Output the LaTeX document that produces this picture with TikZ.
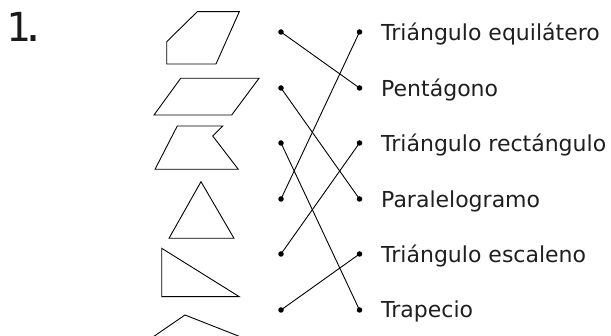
\documentclass[tikz,border=0pt]{standalone}
\usepackage{fontspec}
\setmainfont{DejaVu Sans}
\newfontfamily\numfont{DejaVu Sans Mono}
\begin{document}
\begin{tikzpicture}[x=1pt,y=-1pt,
  dot/.style={circle,fill=black,inner sep=0pt,minimum size=5.5pt},
  lbl/.style={anchor=base west,inner sep=0pt,font=\fontsize{22}{22}\selectfont,text=black!88},
  figline/.style={draw=black,line width=0.9pt,line join=miter},
  link/.style={draw=black,line width=0.9pt}]
\useasboundingbox (0,0) rectangle (611,336);
\clip (0,0) rectangle (611,336);
\node[anchor=base west,inner sep=0pt,font=\numfont\fontsize{40}{40}\selectfont,text=black!90] (num) at (6,42) {1\kern-8.5pt.};
% shapes
\draw[figline] (166.7,41.7) -- (197.3,11.7) -- (239.3,11.7) -- (216,64) -- (166.7,64) -- cycle;
\draw[figline] (154,115) -- (180.7,78.3) -- (259,78.3) -- (231.7,115) -- cycle;
\draw[figline] (177.3,126) -- (222.7,126) -- (212.7,136) -- (238.3,169.3) -- (155,169.3) -- cycle;
\draw[figline] (201,181.7) -- (234,238.3) -- (169,238.3) -- cycle;
\draw[figline] (161.7,248.3) -- (239.3,296.7) -- (161.7,296.7) -- cycle;
\draw[figline] (185,315) -- (150,339) -- (246,339) -- cycle;
% dots
\foreach \i/\y in {1/32,2/88,3/143,4/199,5/254,6/310}{
  \node[dot] (l\i) at (281,\y) {};
  \node[dot] (r\i) at (359.5,\y) {};
}
% labels
\node[lbl] (t1) at (381,41) {Triángulo equilátero};
\node[lbl] (t2) at (381,97) {Pentágono};
\node[lbl] (t3) at (381,152) {Triángulo rectángulo};
\node[lbl] (t4) at (381,208) {Paralelogramo};
\node[lbl] (t5) at (381,262.5) {Triángulo escaleno};
\node[lbl] (t6) at (381,318) {Trapecio};
% links
\draw[link] (l1.center) -- (r2.center);
\draw[link] (l2.center) -- (r4.center);
\draw[link] (l3.center) -- (r6.center);
\draw[link] (l4.center) -- (r1.center);
\draw[link] (l5.center) -- (r3.center);
\draw[link] (l6.center) -- (r5.center);
\end{tikzpicture}
\end{document}
